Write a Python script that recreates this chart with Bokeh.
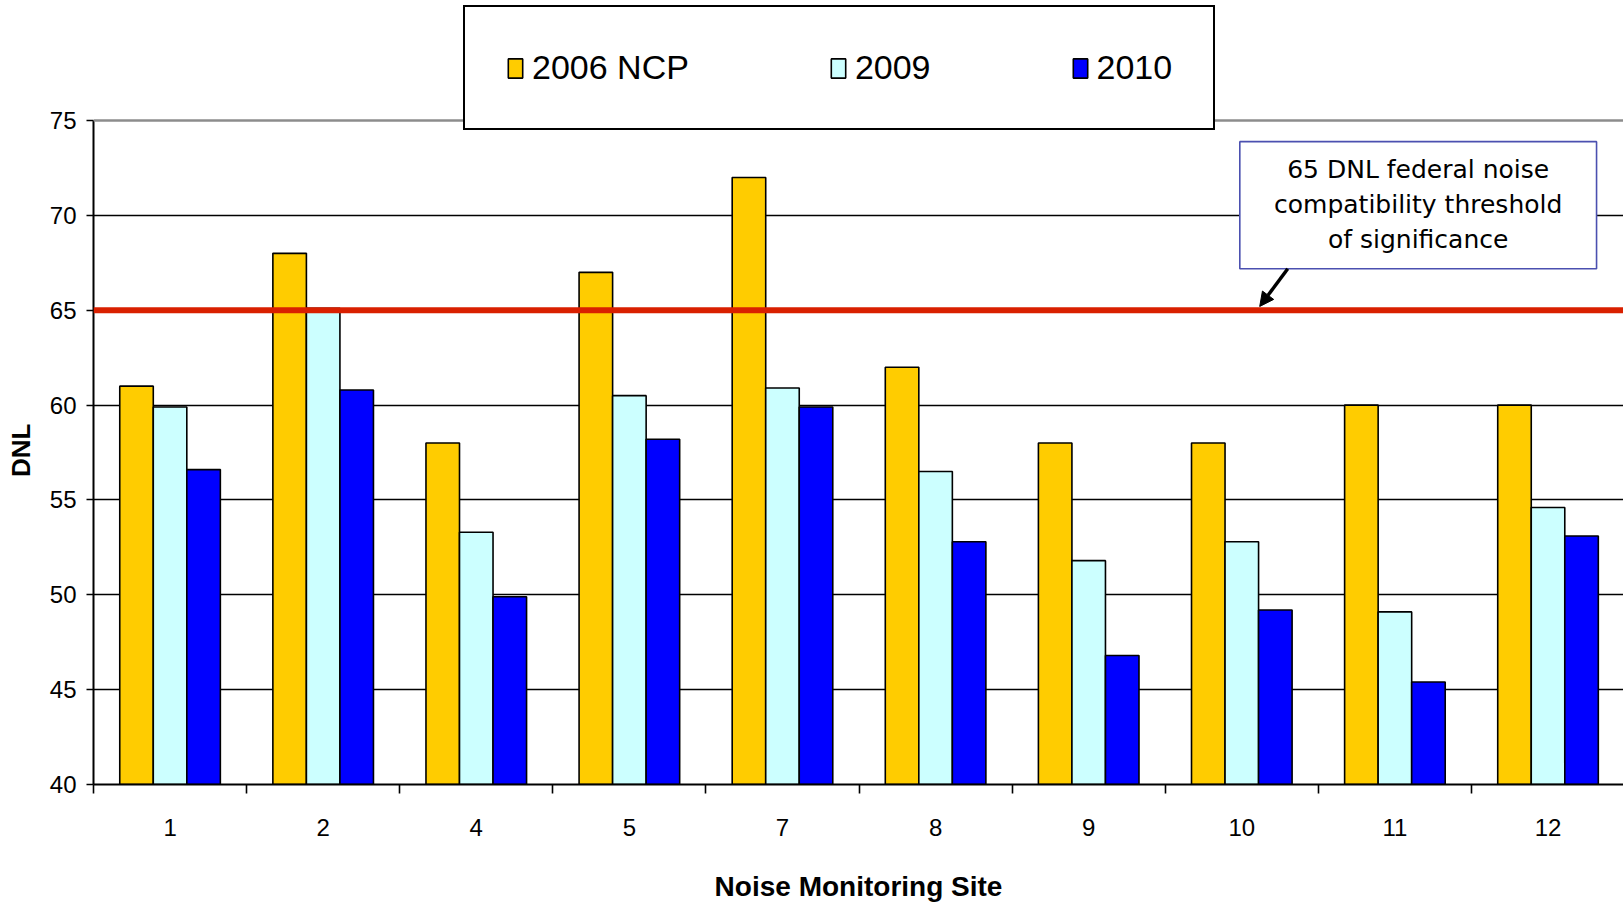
from bokeh.plotting import figure
from bokeh.models import (FixedTicker, Span, Legend, LegendItem, Label, BoxAnnotation,
                          Arrow, NormalHead, Range1d)
from bokeh.embed import file_html
from bokeh.resources import INLINE

# ---- data ----
sites = ["1", "2", "4", "5", "7", "8", "9", "10", "11", "12"]
ncp2006 = [61.0, 68.0, 58.0, 67.0, 72.0, 62.0, 58.0, 58.0, 60.0, 60.0]
y2009 = [59.9, 65.1, 53.3, 60.5, 60.9, 56.5, 51.8, 52.8, 49.1, 54.6]
y2010 = [56.6, 60.8, 49.9, 58.2, 59.9, 52.8, 46.8, 49.2, 45.4, 53.1]
series_names = ["2006 NCP", "2009", "2010"]
y_ticks = [40, 45, 50, 55, 60, 65, 70, 75]
grid_ticks = [45, 50, 55, 60, 65, 70]
threshold = 65
y_title = "DNL"
x_title = "Noise Monitoring Site"
note_lines = ["65 DNL federal noise", "compatibility threshold", "of significance"]

# ---- style ----
colors = ["#FFCC00", "#CCFFFF", "#0000FF"]
FONT = "Liberation Sans"
bar_w = 0.219

centers = [i + 0.5 for i in range(len(sites))]

# frame spans the full height above the x axis so the legend can sit over the top
p = figure(width=1623, height=905, output_backend="svg", toolbar_location=None,
           x_range=Range1d(0, 9.993), y_range=Range1d(40, 81.33))
p.min_border_left = 93
p.min_border_right = 0
p.min_border_top = 0
p.min_border_bottom = 121
p.outline_line_color = None
p.background_fill_color = "white"
p.border_fill_color = "white"

# grid
p.xgrid.visible = False
p.ygrid.ticker = FixedTicker(ticks=grid_ticks)
p.ygrid.grid_line_color = "black"
p.ygrid.grid_line_width = 1.6

renderers = []
for k, (vals, col) in enumerate(zip([ncp2006, y2009, y2010], colors)):
    xs = [c + (k - 1) * bar_w for c in centers]
    r = p.vbar(x=xs, top=vals, bottom=0, width=bar_w, fill_color=col,
               line_color="black", line_width=1.6)
    renderers.append(r)

# top gray line at 75
p.add_layout(Span(location=y_ticks[-1], dimension="width", line_color="#8c8c8c", line_width=2.5))
# threshold
p.add_layout(Span(location=threshold, dimension="width", line_color="#D92000", line_width=6))

# x axis
xa = p.xaxis[0]
xa.ticker = FixedTicker(ticks=centers, minor_ticks=list(range(0, len(sites) + 1)))
xa.major_label_overrides = {c: s for c, s in zip(centers, sites)}
xa.major_tick_out = 0
xa.major_tick_in = 0
xa.minor_tick_out = 9
xa.minor_tick_in = 0
xa.minor_tick_line_color = "black"
xa.minor_tick_line_width = 1.6
xa.axis_line_color = "black"
xa.axis_line_width = 2
xa.major_label_standoff = 25
xa.major_label_text_font = FONT
xa.major_label_text_font_size = "24px"
xa.major_label_text_color = "black"
xa.axis_label = x_title
xa.axis_label_text_font = FONT
xa.axis_label_text_font_style = "bold"
xa.axis_label_text_font_size = "28px"
xa.axis_label_text_color = "black"
xa.axis_label_standoff = 32

# y axis (axis line limited to 40..75)
ya = p.yaxis[0]
ya.ticker = FixedTicker(ticks=y_ticks)
ya.bounds = (y_ticks[0], y_ticks[-1])
ya.major_tick_out = 7
ya.major_tick_in = 0
ya.minor_tick_out = 0
ya.minor_tick_in = 0
ya.major_tick_line_color = "black"
ya.major_tick_line_width = 1.6
ya.axis_line_color = "black"
ya.axis_line_width = 2
ya.major_label_standoff = 10
ya.major_label_text_font = FONT
ya.major_label_text_font_size = "24px"
ya.major_label_text_color = "black"
# trailing no-break spaces shift the title so it is centred on the 40..75 span
ya.axis_label = y_title + "\u00a0" * 16
ya.axis_label_text_font = FONT
ya.axis_label_text_font_style = "bold"
ya.axis_label_text_font_size = "26px"
ya.axis_label_text_color = "black"
ya.axis_label_standoff = 11

# annotation box with note
p.add_layout(BoxAnnotation(left=7.487, right=9.817, bottom=67.19, top=73.89,
                           fill_color="white", fill_alpha=1.0,
                           line_color="#4B50B0", line_width=1.6, line_alpha=1.0))
p.add_layout(Label(x=8.652, y=70.56, text="\n".join(note_lines), text_align="center",
                   text_baseline="middle", text_font="DejaVu Sans", text_font_size="25px",
                   text_color="black", text_line_height=1.21))
p.add_layout(Arrow(end=NormalHead(size=14, fill_color="black", line_color="black"),
                   x_start=7.80, y_start=67.19, x_end=7.617, y_end=65.2,
                   line_width=3.5, line_color="black"))

# legend
legend = Legend(items=[LegendItem(label=n, renderers=[r]) for n, r in zip(series_names, renderers)],
                orientation="horizontal", location=(370, 654), margin=0,
                border_line_color="black", border_line_width=2, border_line_alpha=1.0,
                background_fill_color="white", background_fill_alpha=1.0,
                padding=41, spacing=140, glyph_width=18, glyph_height=24,
                label_standoff=8, label_text_font=FONT, label_text_font_size="34px",
                label_text_color="black")
p.add_layout(legend)

open("out.html", "w").write(file_html(p, INLINE))
